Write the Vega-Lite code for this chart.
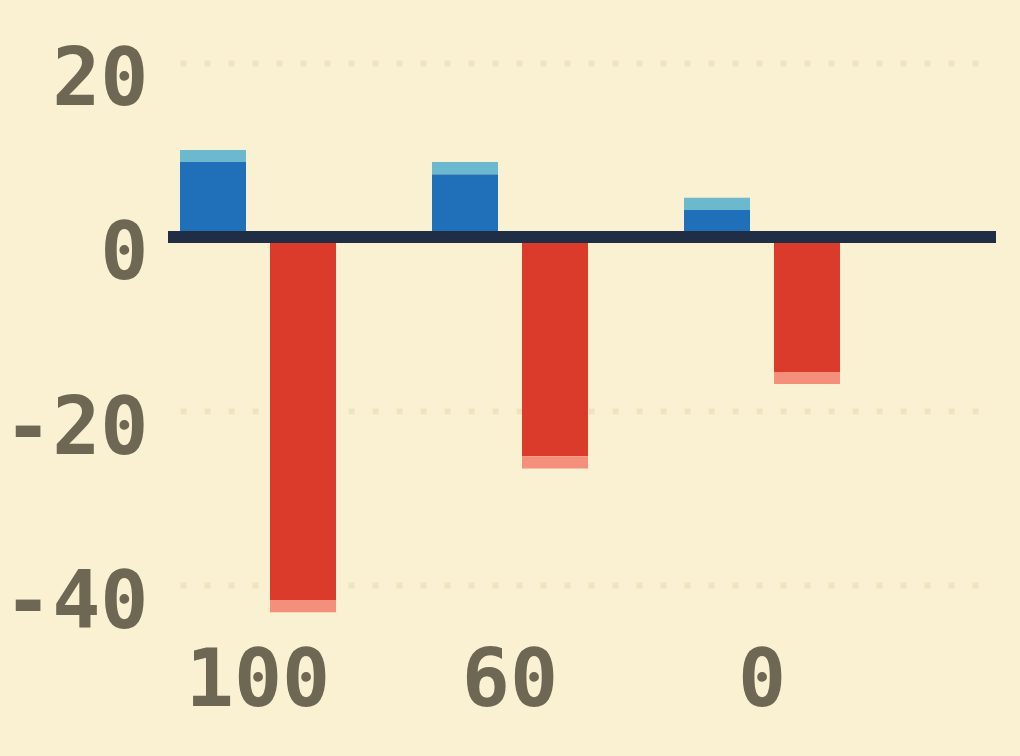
{
  "$schema": "https://vega.github.io/schema/vega-lite/v6.json",
  "width": 828,
  "height": 592,
  "autosize": "none",
  "padding": {"left": 168, "top": 28, "right": 24, "bottom": 136},
  "background": "#faf0d2",
  "config": {
    "view": {"stroke": null},
    "font": "DejaVu Sans Mono"
  },
  "data": {
    "values": [
      {"group": "100", "sign": "pos", "part": "pos-dark", "lo": 0, "hi": 8.6},
      {"group": "100", "sign": "pos", "part": "pos-light", "lo": 8.6, "hi": 10.0},
      {"group": "100", "sign": "neg", "part": "neg-dark", "lo": 0, "hi": -41.7},
      {"group": "100", "sign": "neg", "part": "neg-light", "lo": -41.7, "hi": -43.1},
      {"group": "60", "sign": "pos", "part": "pos-dark", "lo": 0, "hi": 7.2},
      {"group": "60", "sign": "pos", "part": "pos-light", "lo": 7.2, "hi": 8.6},
      {"group": "60", "sign": "neg", "part": "neg-dark", "lo": 0, "hi": -25.2},
      {"group": "60", "sign": "neg", "part": "neg-light", "lo": -25.2, "hi": -26.6},
      {"group": "0", "sign": "pos", "part": "pos-dark", "lo": 0, "hi": 3.1},
      {"group": "0", "sign": "pos", "part": "pos-light", "lo": 3.1, "hi": 4.5},
      {"group": "0", "sign": "neg", "part": "neg-dark", "lo": 0, "hi": -15.5},
      {"group": "0", "sign": "neg", "part": "neg-light", "lo": -15.5, "hi": -16.9}
    ]
  },
  "layer": [
    {
      "mark": {"type": "bar", "cornerRadius": 0},
      "encoding": {
        "x": {
          "field": "group",
          "type": "ordinal",
          "sort": ["100", "60", "0"],
          "scale": {"paddingInner": 0, "paddingOuter": 0.142857, "align": 0},
          "axis": {
            "title": null,
            "labelAngle": 0,
            "labelOffset": -36,
            "labelPadding": 22,
            "labelFontSize": 80,
            "labelFontWeight": "bold",
            "labelColor": "#6e6753",
            "labelBaseline": "top",
            "ticks": false,
            "domain": false
          }
        },
        "xOffset": {
          "field": "sign",
          "type": "nominal",
          "sort": ["pos", "neg"],
          "scale": {"paddingInner": 0.26667, "paddingOuter": 0.53333, "align": 0.125}
        },
        "y": {
          "field": "lo",
          "type": "quantitative",
          "scale": {"domain": [-44, 24], "nice": false, "zero": false},
          "axis": {
            "title": null,
            "values": [-40, -20, 0, 20],
            "labelExpr": "replace(datum.label, '−', '-')",
            "grid": true,
            "gridColor": "#f0e4bf",
            "gridWidth": 6,
            "gridDash": [6, 18],
            "gridDashOffset": 12,
            "domain": false,
            "ticks": false,
            "labelPadding": 20,
            "labelOffset": 18,
            "labelFontSize": 80,
            "labelFontWeight": "bold",
            "labelColor": "#6e6753",
            "labelBaseline": "middle"
          }
        },
        "y2": {"field": "hi"},
        "color": {
          "field": "part",
          "type": "nominal",
          "scale": {
            "domain": ["pos-dark", "pos-light", "neg-dark", "neg-light"],
            "range": ["#1f70b8", "#6cb8cf", "#da3b2b", "#f38f7b"]
          },
          "legend": null
        }
      }
    },
    {
      "mark": {"type": "rule", "color": "#1f2d45", "strokeWidth": 12, "strokeCap": "butt"},
      "encoding": {"y": {"datum": 0}}
    }
  ]
}
